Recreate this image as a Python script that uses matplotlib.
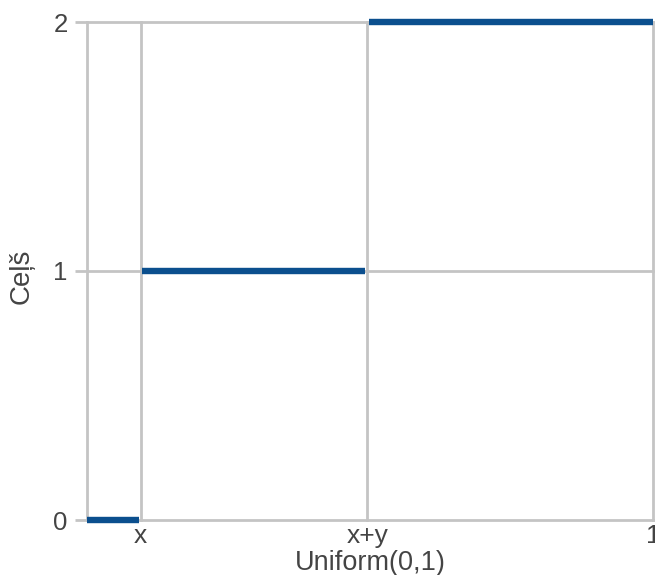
import matplotlib
matplotlib.use("Agg")
import matplotlib.pyplot as plt

# Step function values over Uniform(0,1)
x_pos = 0.095
xy_pos = 0.495
seg_starts = [0.0, x_pos, xy_pos]
seg_ends = [x_pos, xy_pos, 1.0]
seg_levels = [0, 1, 2]

x_ticks = [x_pos, xy_pos, 1.0]
x_tick_labels = ["x", "x+y", "1"]
y_ticks = [0, 1, 2]
y_tick_labels = ["0", "1", "2"]

plt.rcParams["font.family"] = ["Liberation Sans", "DejaVu Sans"]

fig = plt.figure(figsize=(6.55, 5.75), dpi=100)
ax = fig.add_axes([87 / 655, 1 - 520 / 575, 566 / 655, 498 / 575])
ax.set_xlim(0, 1)
ax.set_ylim(0, 2)

grid_c = "#c4c4c4"
for v in [0.0] + x_ticks:
    ax.axvline(v, color=grid_c, lw=2, zorder=1, clip_on=False)
for v in y_ticks:
    ax.axhline(v, color=grid_c, lw=2, zorder=1, clip_on=False)

gap = 0.003
for s, e, lvl in zip(seg_starts, seg_ends, seg_levels):
    ax.plot([s + (gap if s > 0 else 0), e - (gap if e < 1 else 0)], [lvl, lvl],
            color="#0b4f8e", lw=4.6, solid_capstyle="butt", zorder=3, clip_on=False)

for sp in ax.spines.values():
    sp.set_visible(False)

ax.set_xticks(x_ticks)
ax.set_xticklabels(x_tick_labels)
ax.set_yticks(y_ticks)
ax.set_yticklabels(y_tick_labels)
ax.tick_params(axis="x", length=0, pad=3, labelsize=19, labelcolor="#444444")
ax.tick_params(axis="y", length=9, width=2, color=grid_c, pad=5,
               labelsize=18.5, labelcolor="#444444")

ax.set_xlabel("Uniform(0,1)", fontsize=19.5, color="#444444", labelpad=1)
ax.set_ylabel("Ceļš", fontsize=20, color="#444444")
ax.yaxis.set_label_coords(-0.093, 0.49)

fig.savefig("out.png", dpi=100)
